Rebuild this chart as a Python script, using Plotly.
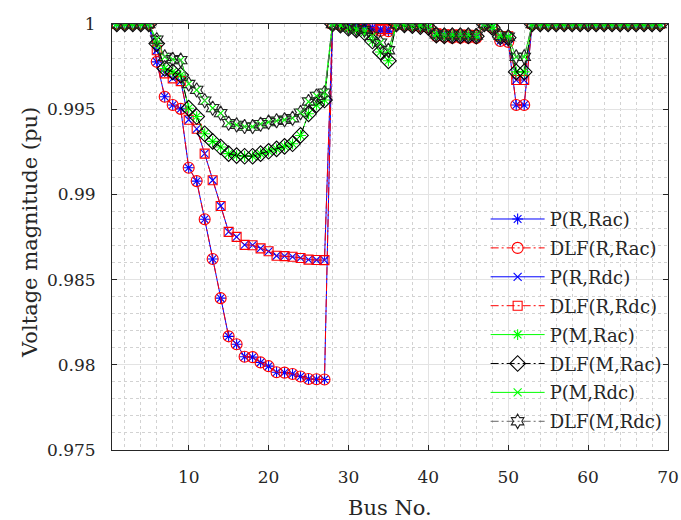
import plotly.graph_objects as go

bus = list(range(1, 70))

# Voltage magnitudes (pu); P and DLF coincide per case
v_R_Rac = [1.0, 1.0, 1.0, 1.0, 1.0, 0.99778, 0.99573, 0.99525, 0.99502, 0.99156,
           0.99078, 0.98854, 0.98621, 0.98391, 0.98167, 0.98121, 0.98047, 0.98045, 0.98014, 0.97992,
           0.97956, 0.97954, 0.97946, 0.97931, 0.97917, 0.97915, 0.97914, 1.0, 0.99995, 0.9999,
           0.99985, 0.9998, 0.9997, 0.9996, 0.99958, 1.0, 0.99995, 0.9999, 0.99985, 0.9998,
           0.9993, 0.99925, 0.9992, 0.9992, 0.9992, 0.99918, 1.0, 0.9998, 0.9990, 0.99895,
           0.99525, 0.99525, 1.0, 1.0, 1.0, 1.0, 1.0, 1.0, 1.0, 1.0,
           1.0, 1.0, 1.0, 1.0, 1.0, 1.0, 1.0, 1.0, 1.0]

v_R_Rdc = [1.0, 1.0, 1.0, 1.0, 1.0, 0.99846, 0.9971, 0.99681, 0.99665, 0.99438,
           0.99385, 0.99239, 0.99083, 0.98932, 0.98780, 0.98751, 0.98704, 0.98702, 0.98683, 0.98666,
           0.98640, 0.98638, 0.98634, 0.98627, 0.98617, 0.98615, 0.98614, 1.0, 0.99997, 0.99993,
           0.9999, 0.99985, 0.9998, 0.9997, 0.9997, 1.0, 0.99997, 0.99993, 0.9999, 0.99985,
           0.99945, 0.9994, 0.99938, 0.99938, 0.99937, 0.99935, 1.0, 0.99985, 0.9993, 0.99928,
           0.99671, 0.99671, 1.0, 1.0, 1.0, 1.0, 1.0, 1.0, 1.0, 1.0,
           1.0, 1.0, 1.0, 1.0, 1.0, 1.0, 1.0, 1.0, 1.0]

v_M_Rac = [1.0, 1.0, 1.0, 1.0, 1.0, 0.99885, 0.99739, 0.99719, 0.99700, 0.99506,
           0.99457, 0.99356, 0.99311, 0.99278, 0.99239, 0.99228, 0.99224, 0.99224, 0.99239, 0.99253,
           0.99267, 0.99282, 0.99297, 0.99346, 0.99473, 0.99525, 0.99554, 1.0, 0.99993, 0.99975,
           0.99965, 0.9995, 0.9990, 0.99836, 0.99784, 1.0, 0.99995, 0.9999, 0.99985, 0.9998,
           0.99935, 0.9993, 0.9993, 0.9993, 0.9993, 0.99928, 1.0, 0.9998, 0.99925, 0.9992,
           0.99719, 0.99719, 1.0, 1.0, 1.0, 1.0, 1.0, 1.0, 1.0, 1.0,
           1.0, 1.0, 1.0, 1.0, 1.0, 1.0, 1.0, 1.0, 1.0]

v_M_Rdc = [1.0, 1.0, 1.0, 1.0, 1.0, 0.99908, 0.99807, 0.99793, 0.99788, 0.99648,
           0.99613, 0.99550, 0.99506, 0.99477, 0.99418, 0.99408, 0.99398, 0.99398, 0.99412, 0.99424,
           0.99432, 0.99438, 0.99447, 0.99480, 0.99545, 0.99578, 0.99597, 1.0, 0.99995, 0.9998,
           0.9997, 0.99965, 0.9993, 0.99891, 0.99846, 1.0, 0.99997, 0.99993, 0.9999, 0.99985,
           0.9994, 0.99935, 0.99935, 0.99935, 0.99935, 0.99932, 1.0, 0.99985, 0.9993, 0.99925,
           0.99807, 0.99807, 1.0, 1.0, 1.0, 1.0, 1.0, 1.0, 1.0, 1.0,
           1.0, 1.0, 1.0, 1.0, 1.0, 1.0, 1.0, 1.0, 1.0]

y_ticks = [0.975, 0.98, 0.985, 0.99, 0.995, 1.0]
y_ticktext = ["0.975", "0.98", "0.985", "0.99", "0.995", "1"]
x_ticks = [10, 20, 30, 40, 50, 60, 70]

DASHDOT = "8px,3px,2px,3px"
series = [
    ("P(R,Rac)", v_R_Rac, "#0000ff", "solid", "asterisk-open", 9, "#0000ff"),
    ("DLF(R,Rac)", v_R_Rac, "#ff0000", DASHDOT, "circle-open", 11, "#ff0000"),
    ("P(R,Rdc)", v_R_Rdc, "#0000ff", "solid", "x-thin-open", 8, "#0000ff"),
    ("DLF(R,Rdc)", v_R_Rdc, "#ff0000", DASHDOT, "square-open", 9, "#ff0000"),
    ("P(M,Rac)", v_M_Rac, "#00ff00", "solid", "asterisk-open", 9, "#00ff00"),
    ("DLF(M,Rac)", v_M_Rac, "#000000", DASHDOT, "diamond-open", 12, "#000000"),
    ("P(M,Rdc)", v_M_Rdc, "#00ff00", "solid", "x-thin-open", 8, "#00ff00"),
    ("DLF(M,Rdc)", v_M_Rdc, "#666666", DASHDOT, "hexagram-open", 11, "#222222"),
]

fig = go.Figure()
for i, (name, vals, col, dash, sym, size, mcol) in enumerate(series):
    fig.add_trace(go.Scatter(
        x=bus, y=vals, name=name, mode="lines+markers",
        legendgroup=f"g{i}",
        line=dict(color=col, width=1, dash=dash),
        marker=dict(symbol=sym, size=size, color=mcol,
                    line=dict(color=mcol, width=1.1)),
    ))

FONT = "DejaVu Serif"
TXT = "#262626"
fig.update_layout(
    width=681, height=520,
    margin=dict(l=112, r=13, t=24, b=70),
    paper_bgcolor="white", plot_bgcolor="white",
    font=dict(family=FONT, size=17, color=TXT),
    showlegend=True,
    legend=dict(x=0.672, y=0.585, xanchor="left", yanchor="top",
                bgcolor="rgba(0,0,0,0)", borderwidth=0,
                font=dict(family=FONT, size=18, color=TXT),
                itemwidth=54, tracegroupgap=2.5),
    xaxis=dict(
        range=[0.4, 70], tickvals=x_ticks, ticks="inside", ticklen=5,
        tickcolor=TXT, showline=True, linecolor=TXT, linewidth=1,
        mirror="ticks", showgrid=True, gridcolor="#e3e3e3", gridwidth=1,
        zeroline=False, ticklabelstandoff=12, automargin=False,
        tickfont=dict(family=FONT, size=17, color=TXT),
        minor=dict(dtick=2, tick0=0, showgrid=True, gridcolor="#d2d2d2",
                   griddash="dot", gridwidth=1),
    ),
    yaxis=dict(
        range=[0.975, 1.0], tickvals=y_ticks, ticktext=y_ticktext,
        ticks="inside", ticklen=5, tickcolor=TXT,
        showline=True, linecolor=TXT, linewidth=1, mirror="ticks",
        showgrid=True, gridcolor="#e3e3e3", gridwidth=1, zeroline=False,
        ticklabelstandoff=12, automargin=False,
        tickfont=dict(family=FONT, size=17, color=TXT),
        minor=dict(dtick=0.001, tick0=0.975, showgrid=True, gridcolor="#d2d2d2",
                   griddash="dot", gridwidth=1),
    ),
    annotations=[
        dict(text="Bus No.", xref="paper", yref="paper", x=0.5, y=-0.136,
             xanchor="center", yanchor="middle", showarrow=False,
             font=dict(family=FONT, size=21, color=TXT)),
        dict(text="Voltage magnitude (pu)", xref="paper", yref="paper",
             x=-0.1475, y=0.512, textangle=-90, xanchor="center", yanchor="middle",
             showarrow=False, font=dict(family=FONT, size=21, color=TXT)),
    ],
)

fig.write_html("out.html")
